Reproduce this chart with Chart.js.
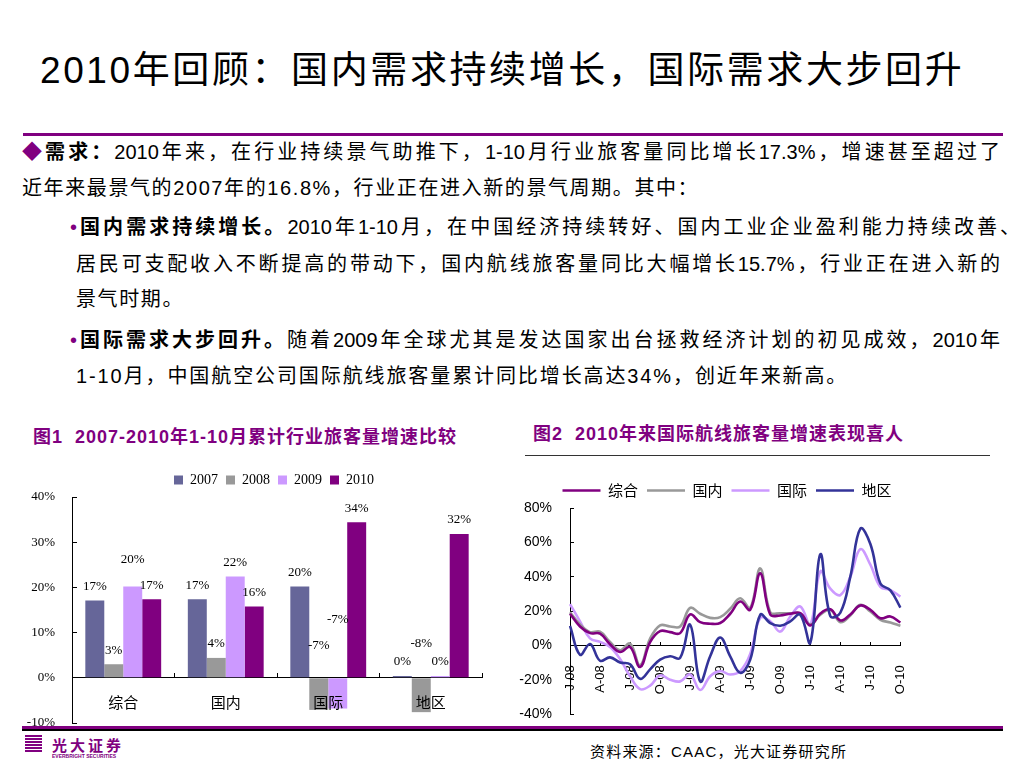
<!DOCTYPE html>
<html>
<head>
<meta charset="utf-8">
<script src="https://cdn.jsdelivr.net/npm/chart.js@4.4.1/dist/chart.umd.min.js"></script>
<style>
html,body{margin:0;padding:0;overflow:hidden}
body{width:1024px;height:768px;background:#fff;position:relative;font-family:"Liberation Sans","Noto Sans CJK SC",sans-serif;color:#000}
.abs{position:absolute;white-space:nowrap}
#title{left:40px;top:46px;font-size:37px;letter-spacing:2.6px;line-height:50px}
.rule{position:absolute}
.ln{position:absolute;font-size:20px;line-height:26px;height:26px;white-space:nowrap}
.just{text-align:justify;text-align-last:justify;text-justify:inter-character;white-space:normal;overflow:visible}
.pp{color:#800080}
.cap{position:absolute;color:#800080;font-weight:bold;font-size:18px;letter-spacing:1px;white-space:nowrap;line-height:22px}
.box{position:absolute}
</style>
</head>
<body>

<div id="title" class="abs">2010年回顾：国内需求持续增长，国际需求大步回升</div>
<div class="rule" style="left:23px;top:133px;width:980px;height:3px;background:#800080"></div>

<div class="ln just" style="left:22px;top:139px;width:978px"><span class="pp">◆</span><b>需求：</b>2010年来，在行业持续景气助推下，1-10月行业旅客量同比增长17.3%，增速甚至超过了</div>
<div class="ln" style="left:22px;top:175px;letter-spacing:1.6px">近年来最景气的2007年的16.8%，行业正在进入新的景气周期。其中：</div>
<div class="ln just" style="left:70px;top:214px;width:950px"><span class="pp">•</span><b>国内需求持续增长。</b>2010年1-10月，在中国经济持续转好、国内工业企业盈利能力持续改善、</div>
<div class="ln just" style="left:76px;top:251px;width:924px">居民可支配收入不断提高的带动下，国内航线旅客量同比大幅增长15.7%，行业正在进入新的</div>
<div class="ln" style="left:76px;top:286px;letter-spacing:1.6px">景气时期。</div>
<div class="ln just" style="left:70px;top:327px;width:930px"><span class="pp">•</span><b>国际需求大步回升。</b>随着2009年全球尤其是发达国家出台拯救经济计划的初见成效，2010年</div>
<div class="ln" style="left:76px;top:363px;letter-spacing:1.9px">1-10月，中国航空公司国际航线旅客量累计同比增长高达34%，创近年来新高。</div>

<div class="cap" style="left:33px;top:426px">图1&nbsp; 2007-2010年1-10月累计行业旅客量增速比较</div>
<div class="cap" style="left:533px;top:423px">图2&nbsp; 2010年来国际航线旅客量增速表现喜人</div>
<div class="rule" style="left:525px;top:455px;width:465px;height:1px;background:#333"></div>

<div class="box" style="left:20px;top:462px;width:470px;height:267px"><canvas id="barChart"></canvas></div>
<div class="box" style="left:500px;top:470px;width:440px;height:258px"><canvas id="lineChart"></canvas></div>

<div class="rule" style="left:22px;top:726px;width:981px;height:3px;background:#800080"></div>
<div class="rule" style="left:22px;top:729px;width:981px;height:1.5px;background:#000"></div>

<div class="rule" style="left:25px;top:735px;width:17px;height:18px;background:repeating-linear-gradient(#800080 0 2px,#fff 2px 3px)"></div>
<div class="abs" style="left:52px;top:734px;font-size:15px;font-weight:bold;letter-spacing:3px;color:#800080">光大证券</div>
<div class="abs" style="left:52px;top:753px;font-size:5px;font-weight:bold;color:#800080">EVERBRIGHT SECURITIES</div>
<div class="abs" style="left:590px;top:740px;font-size:15px;letter-spacing:1.2px">资料来源：CAAC，光大证券研究所</div>

<script>
/* BAR CHART DATA */

const barCategories=['综合','国内','国际','地区'];
const barYears=['2007','2008','2009','2010'];
const growth2007=[17.1,17.4,20.2,0.4];
const growth2008=[3.0,4.4,-7.1,-7.6];
const growth2009=[20.2,22.4,-6.8,0.4];
const growth2010=[17.4,15.8,34.4,31.8];
const barColors=['#666699','#999999','#CC99FF','#800080'];
const barTicks=[-10,0,10,20,30,40];


/* LINE CHART DATA (monthly, Jan-08 .. Oct-10) */

const months=['J-08','F-08','M-08','A-08','M-08','J-08','J-08','A-08','S-08','O-08','N-08','D-08',
'J-09','F-09','M-09','A-09','M-09','J-09','J-09','A-09','S-09','O-09','N-09','D-09',
'J-10','F-10','M-10','A-10','M-10','J-10','J-10','A-10','S-10','O-10'];
const lineNames=['综合','国内','国际','地区'];
const lineZonghe=[18.4,11,7.1,6.8,0.6,-3.9,-1,-12.6,1.9,8.3,7.7,7.1,18,13.5,12.6,13,18.4,25.5,20.7,42,18,17.4,18.4,18.7,11.6,18.5,21,14.5,18,23.2,20.7,15.8,16.8,13.3];
const lineGuonei=[19.3,12.2,7.7,7.9,1.9,-2.9,1,-11.6,3.9,11.6,11,11,21.8,18.4,16,16.4,21.3,27.4,21.8,44.8,19.3,18.7,18.7,18.4,12.2,17.8,20.7,13.5,17.4,23.6,19.7,14.9,13.3,11.4];
const lineGuoji=[24,14,4,2,-1,-8,-18,-25.5,-23.5,-17.5,-20,-21,-17,-26,-18,-15,-17,-15,-5,16,14,8,16.8,22.6,12,43,33,29.3,40,56,47,34,32.2,28.4];
const lineDiqu=[11.3,-5.5,0.8,-9,-7,-10,-11,-19.5,-14,-8.3,-6.4,-7.3,12,-21,-6.4,4.6,-6.4,-16,-8.3,17.8,13,11.4,14,17.8,1.5,53,17,19,40,68,59,36,32,22];
const lineColors=['#800080','#999999','#CC99FF','#333399'];
const lineTicks=[-40,-20,0,20,40,60,80];


/* BAR VALUE LABELS */

const barLabels={
id:'barLabels',
afterDatasetsDraw(chart){
const ctx=chart.ctx;
const yScale=chart.scales.y;
ctx.save();
ctx.font='13px "Liberation Serif"';
ctx.fillStyle='#000';
ctx.textAlign='center';
ctx.textBaseline='middle';
for(let c=0;c<chart.data.labels.length;c++){
const items=[];
chart.data.datasets.forEach((ds,i)=>{
const bar=chart.getDatasetMeta(i).data[c];
const v=ds.data[c];
const text=Math.round(v)+'%';
const y=v>=0?bar.y-14:yScale.getPixelForValue(-v);
items.push({v:v,x:bar.x,y:y,w:ctx.measureText(text).width,text:text});
});
// lift the label of the larger bar when two labels collide
for(let a=0;a<items.length;a++){
for(let b=a+1;b<items.length;b++){
const p=items[a],q=items[b];
if(Math.abs(p.x-q.x)<(p.w+q.w)/2&&Math.abs(p.y-q.y)<14){
if(p.v>q.v)p.y=q.y-26;else q.y=p.y-26;
}
}
}
items.forEach(it=>ctx.fillText(it.text,it.x,it.y));
}
ctx.restore();
}
};


/* LEGEND NUDGE */

const legendShift={
id:'legendShift',
afterLayout(chart,args,opts){
if(!opts.dx)return;
chart.legend.left+=opts.dx;
chart.legend.right+=opts.dx;
}
};


/* Y AXIS WIDTH, NO EXTRA PADDING */

function fixYAxis(width){
return function(s){
s.width=width;
s.paddingTop=0;
s.paddingBottom=0;
};
}


/* BAR CHART */

new Chart(document.getElementById('barChart'),{
type:'bar',
data:{
labels:barCategories,
datasets:[growth2007,growth2008,growth2009,growth2010].map((d,i)=>({
label:barYears[i],
data:d,
backgroundColor:barColors[i],
borderWidth:0
}))
},
options:{
responsive:true,
maintainAspectRatio:false,
animation:false,
layout:{padding:{top:3,right:8,bottom:6,left:0}},
datasets:{bar:{categoryPercentage:0.74,barPercentage:1}},
plugins:{
legend:{fullSize:false,labels:{boxWidth:9,boxHeight:9,padding:8,color:'#000',font:{family:'Liberation Serif',size:14}}},
tooltip:{enabled:false},
legendShift:{dx:-3}
},
scales:{
x:{
position:{y:0},
afterFit:s=>{s.height=0;},
grid:{drawOnChartArea:false,tickLength:-5,color:'#000'},
border:{color:'#000'},
ticks:{z:1,padding:20,color:'#000',font:{family:'Noto Sans CJK SC',size:15}}
},
y:{
min:-10,
max:40,
afterBuildTicks:s=>{s.ticks=barTicks.map(v=>({value:v}));},
afterFit:fixYAxis(52),
grid:{drawOnChartArea:false,tickLength:-5,color:'#000'},
border:{color:'#000'},
ticks:{padding:22,color:'#000',font:{family:'Liberation Serif',size:13},callback:v=>v+'%'}
}
}
},
plugins:[barLabels,legendShift]
});


/* LINE CHART */

const lineSeries=[lineZonghe,lineGuonei,lineGuoji,lineDiqu];
const lineOrder=[1,2,3,0];

new Chart(document.getElementById('lineChart'),{
type:'line',
data:{
labels:months,
datasets:lineSeries.map((d,i)=>({
label:lineNames[i],
data:d,
borderColor:lineColors[i],
backgroundColor:lineColors[i],
borderWidth:2.6,
pointRadius:0,
tension:0.4,
fill:false,
order:lineOrder[i]
}))
},
options:{
responsive:true,
maintainAspectRatio:false,
animation:false,
layout:{padding:{top:4,right:22,bottom:14,left:0}},
plugins:{
legend:{labels:{usePointStyle:true,pointStyle:'line',pointStyleWidth:38,padding:9,color:'#000',
font:{family:'Noto Sans CJK SC',size:15},sort:(a,b)=>a.datasetIndex-b.datasetIndex}},
tooltip:{enabled:false},
legendShift:{dx:18}
},
scales:{
x:{
position:{y:0},
afterFit:s=>{s.height=0;},
grid:{drawOnChartArea:false,tickLength:-4,color:c=>c.index%3===0?'#000':'rgba(0,0,0,0)'},
border:{color:'#000'},
ticks:{autoSkip:false,minRotation:90,maxRotation:90,padding:24,color:'#000',
font:{family:'Liberation Sans',size:13},
callback:function(v,i){return i%3===0?this.getLabelForValue(v):'';}}
},
y:{
min:-40,
max:80,
afterBuildTicks:s=>{s.ticks=lineTicks.map(v=>({value:v}));},
afterFit:fixYAxis(70),
grid:{drawOnChartArea:false,tickLength:-4,color:'#000'},
border:{color:'#000'},
ticks:{padding:22,color:'#000',font:{family:'Liberation Sans',size:14},callback:v=>v+'%'}
}
}
},
plugins:[legendShift]
});
</script>
</body>
</html>
